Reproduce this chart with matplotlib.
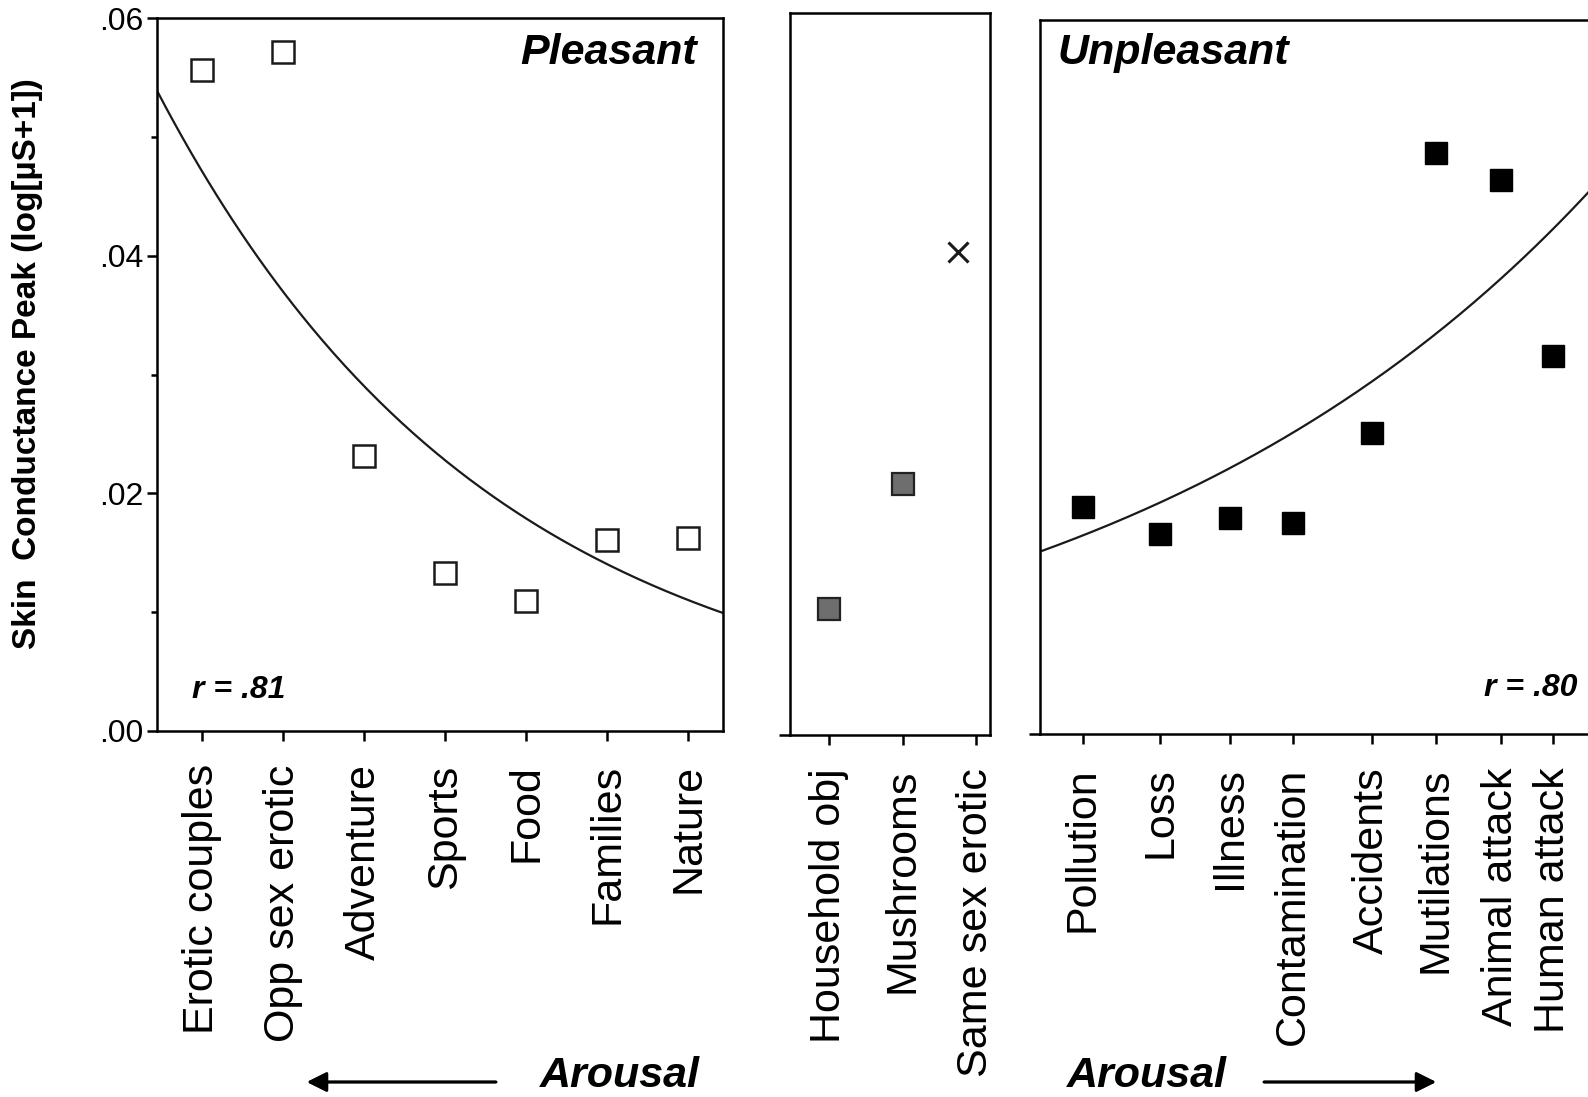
import numpy as np
import matplotlib.pyplot as plt
import matplotlib.ticker as ticker

plt.rcParams['font.family'] = ['Liberation Sans', 'DejaVu Sans']

# ------------------------------------------------
# Data: skin conductance peak per picture category
# ------------------------------------------------
pleasant_labels = ['Erotic couples', 'Opp sex erotic', 'Adventure', 'Sports',
                   'Food', 'Families', 'Nature']
pleasant_x = [1, 2, 3, 4, 5, 6, 7]
pleasant_scr = [0.0556, 0.0571, 0.0231, 0.0133, 0.0109, 0.0161, 0.0162]
pleasant_fit = (0.0600, -0.2421)  # a * exp(b * x)

neutral_labels = ['Household obj', 'Mushrooms', 'Same sex erotic']
neutral_ticks = [1, 2, 3]
neutral_x = [1, 2]
neutral_scr = [0.0106, 0.0211]
same_sex_x = 2.75
same_sex_scr = 0.0407

unpleasant_labels = ['Pollution', 'Loss', 'Illness', 'Contamination',
                     'Accidents', 'Mutilations', 'Animal attack', 'Human attack']
unpleasant_x = [1, 2.1, 3.1, 4.0, 5.13, 6.04, 6.97, 7.71]
unpleasant_scr = [0.0191, 0.0168, 0.0182, 0.0178, 0.0253, 0.0489, 0.0466, 0.0318]
unpleasant_fit = (0.01455, 0.139)

LW = 1.8
W, H = 1588, 1097
TITLE_FS = 31

fig = plt.figure(figsize=(W / 100, H / 100), dpi=100)

ax_p = fig.add_axes([157 / W, 1 - 731 / H, 566 / W, 713 / H])
ax_n = fig.add_axes([790 / W, 1 - 735 / H, 200 / W, 722 / H])
ax_u = fig.add_axes([1040 / W, 1 - 734 / H, 580 / W, 714 / H])


def style_panel(ax, xticks, xlabels):
    for s in ax.spines.values():
        s.set_linewidth(LW)
    ax.set_xticks(xticks, xlabels, rotation=90)
    ax.tick_params(axis='x', direction='out', length=7, width=LW, pad=17,
                   labelsize=31)
    ax.tick_params(axis='y', direction='out', length=8, width=LW)


# Pleasant panel
style_panel(ax_p, pleasant_x, pleasant_labels)
ax_p.set_xlim(0.444, 7.43)
ax_p.set_ylim(0, 0.06)
ax_p.yaxis.set_major_locator(ticker.MultipleLocator(0.02))
ax_p.yaxis.set_minor_locator(ticker.MultipleLocator(0.01))
ax_p.yaxis.set_major_formatter(ticker.FuncFormatter(lambda v, p: f'{v:.2f}'.lstrip('0')))
ax_p.tick_params(axis='y', which='major', length=7, labelsize=23, pad=3)
ax_p.tick_params(axis='y', which='minor', length=4, width=LW)
xs = np.linspace(*ax_p.get_xlim(), 200)
ax_p.plot(xs, pleasant_fit[0] * np.exp(pleasant_fit[1] * xs), color='#1a1a1a', lw=1.6)
ax_p.plot(pleasant_x, pleasant_scr, 's', ms=16, mfc='white', mec='#1a1a1a', mew=1.8)
ax_p.text(0.954, 0.951, 'Pleasant', transform=ax_p.transAxes, ha='right', va='center',
          fontsize=TITLE_FS, fontweight='bold', fontstyle='italic')
ax_p.text(0.062, 0.0575, 'r = .81', transform=ax_p.transAxes, ha='left', va='center',
          fontsize=23, fontweight='bold', fontstyle='italic')

# Neutral panel
style_panel(ax_n, neutral_ticks, neutral_labels)
ax_n.set_xlim(0.469, 3.19)
ax_n.set_ylim(0, 0.0608)
ax_n.set_yticks([0], [''])
ax_n.plot(neutral_x, neutral_scr, 's', ms=16, mfc='#6e6e6e', mec='#222222', mew=1.6)
ax_n.plot(same_sex_x, same_sex_scr, 'x', ms=14, mec='#1a1a1a', mew=2.2)

# Unpleasant panel
style_panel(ax_u, unpleasant_x, unpleasant_labels)
ax_u.set_xlim(0.386, 8.67)
ax_u.set_ylim(0, 0.0601)
ax_u.set_yticks([0], [''])
xs = np.linspace(*ax_u.get_xlim(), 200)
ax_u.plot(xs, unpleasant_fit[0] * np.exp(unpleasant_fit[1] * xs), color='#1a1a1a', lw=1.6)
ax_u.plot(unpleasant_x, unpleasant_scr, 's', ms=16, mfc='black', mec='black', mew=1)
ax_u.text(0.031, 0.954, 'Unpleasant', transform=ax_u.transAxes, ha='left', va='center',
          fontsize=TITLE_FS, fontweight='bold', fontstyle='italic')
ax_u.text(0.926, 0.064, 'r = .80', transform=ax_u.transAxes, ha='right', va='center',
          fontsize=23, fontweight='bold', fontstyle='italic')

# Shared y label and arousal arrows
fig.text(28 / W, 1 - 364 / H, 'Skin  Conductance Peak (log[µS+1])', rotation=90,
         ha='center', va='center', fontsize=24, fontweight='bold')

arrow = dict(arrowstyle='-|>', lw=2, color='black', mutation_scale=30, shrinkA=0, shrinkB=0)
fig.text(620 / W, 1 - 1076 / H, 'Arousal', ha='center', va='center',
         fontsize=TITLE_FS, fontweight='bold', fontstyle='italic')
fig.text(1147 / W, 1 - 1076 / H, 'Arousal', ha='center', va='center',
         fontsize=TITLE_FS, fontweight='bold', fontstyle='italic')
fig.add_artist(plt.annotate('', xy=(307 / W, 1 - 1082 / H), xytext=(496 / W, 1 - 1082 / H),
                            xycoords='figure fraction', arrowprops=arrow))
fig.add_artist(plt.annotate('', xy=(1436 / W, 1 - 1082 / H), xytext=(1264 / W, 1 - 1082 / H),
                            xycoords='figure fraction', arrowprops=arrow))

fig.savefig('out.png', dpi=100)
